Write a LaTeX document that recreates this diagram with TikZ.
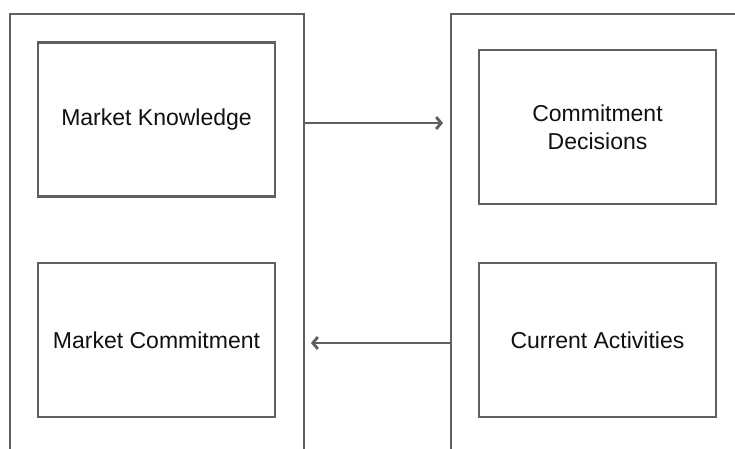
\documentclass[tikz,border=0pt]{standalone}
\usepackage{fontspec}
\setmainfont{Liberation Sans}
\usepackage{xcolor}
\usepackage{tikz}
\usetikzlibrary{arrows.meta}
\definecolor{edge}{HTML}{5F5F5F}
\definecolor{ink}{HTML}{111111}
\tikzset{
  panel/.style={draw=edge, line width=2.8pt, minimum width=#1, minimum height=460pt, inner sep=0pt},
  block/.style={draw=edge, line width=2.6pt, minimum width=237pt, minimum height=154pt, inner sep=0pt,
    text=ink, align=center, font=\fontsize{23}{28}\selectfont},
  flow/.style={draw=edge, line width=2.8pt, -{Straight Barb[length=5pt,width=12pt,line width=2.8pt]}},
}
\begin{document}
\begin{tikzpicture}[x=1pt,y=-1pt]
  \clip (0,0) rectangle (735,448);
  \fill[white] (0,0) rectangle (735,448);
  % two halves, cut off by the page
  \node[panel=294pt] (left) at (157,244) {};
  \node[panel=320pt] (right) at (611,244) {};
  \node[block] (know) at (156.5,119.5) {Market Knowledge};
  \node[block] (commit) at (156.5,340) {Market Commitment};
  \node[block] (decide) at (597.5,127) {Commitment\\Decisions};
  \node[block] (act) at (597.5,340) {Current Activities};
  \coordinate (kend) at (443,123);
  \coordinate (cend) at (311,343);
  \draw[flow] (left.east |- kend) -- (kend);
  \draw[flow] (right.west |- cend) -- (cend);
\end{tikzpicture}
\end{document}
